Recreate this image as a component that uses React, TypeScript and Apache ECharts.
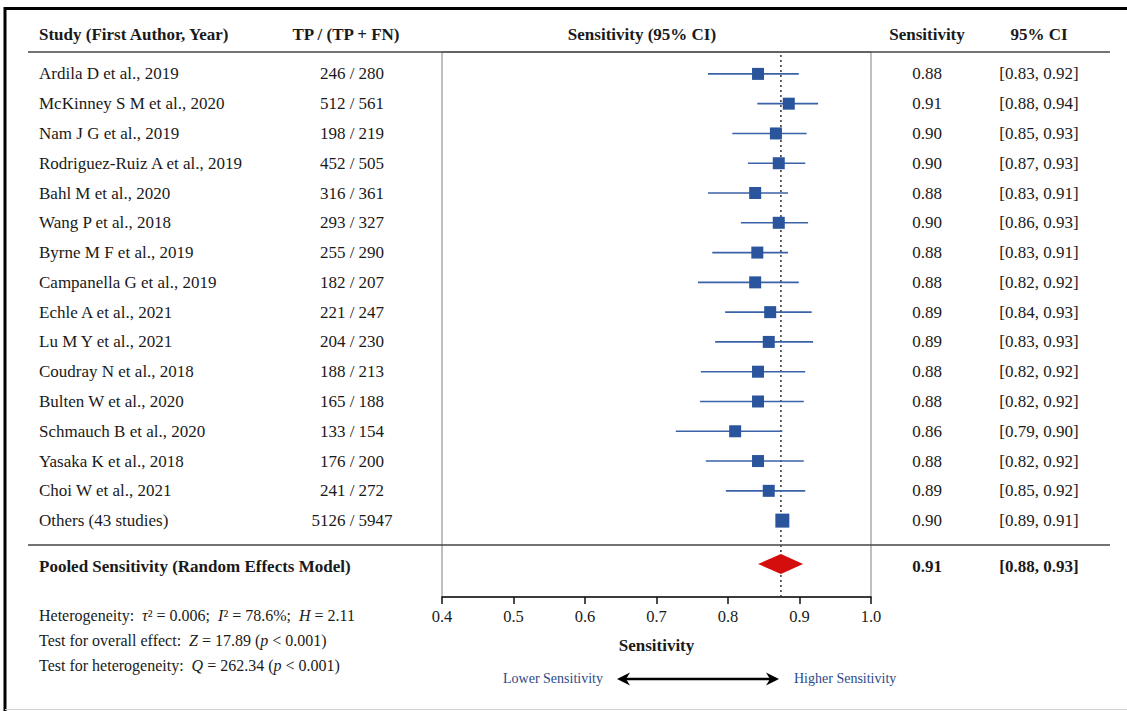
import React, { useEffect, useRef } from 'react';
import * as echarts from 'echarts';

const studies = [
  'Ardila D et al., 2019', 'McKinney S M et al., 2020', 'Nam J G et al., 2019',
  'Rodriguez-Ruiz A et al., 2019', 'Bahl M et al., 2020', 'Wang P et al., 2018',
  'Byrne M F et al., 2019', 'Campanella G et al., 2019', 'Echle A et al., 2021',
  'Lu M Y et al., 2021', 'Coudray N et al., 2018', 'Bulten W et al., 2020',
  'Schmauch B et al., 2020', 'Yasaka K et al., 2018', 'Choi W et al., 2021',
  'Others (43 studies)',
];
const tpCounts = [
  '246 / 280', '512 / 561', '198 / 219', '452 / 505', '316 / 361', '293 / 327',
  '255 / 290', '182 / 207', '221 / 247', '204 / 230', '188 / 213', '165 / 188',
  '133 / 154', '176 / 200', '241 / 272', '5126 / 5947',
];
const sensLabels = [
  '0.88', '0.91', '0.90', '0.90', '0.88', '0.90', '0.88', '0.88',
  '0.89', '0.89', '0.88', '0.88', '0.86', '0.88', '0.89', '0.90',
];
const ciLabels = [
  '[0.83, 0.92]', '[0.88, 0.94]', '[0.85, 0.93]', '[0.87, 0.93]', '[0.83, 0.91]',
  '[0.86, 0.93]', '[0.83, 0.91]', '[0.82, 0.92]', '[0.84, 0.93]', '[0.83, 0.93]',
  '[0.82, 0.92]', '[0.82, 0.92]', '[0.79, 0.90]', '[0.82, 0.92]', '[0.85, 0.92]',
  '[0.89, 0.91]',
];
// positions of the marks as drawn on the axis
const estimates = [0.842, 0.885, 0.867, 0.871, 0.838, 0.871, 0.841, 0.838, 0.859, 0.857, 0.842, 0.842, 0.810, 0.842, 0.857, 0.876];
const lowerCI = [0.772, 0.841, 0.806, 0.828, 0.772, 0.818, 0.778, 0.758, 0.796, 0.782, 0.762, 0.761, 0.727, 0.769, 0.797, 0.868];
const upperCI = [0.899, 0.926, 0.910, 0.908, 0.884, 0.912, 0.884, 0.899, 0.917, 0.919, 0.908, 0.906, 0.876, 0.906, 0.908, 0.884];

const pooledLabel = 'Pooled Sensitivity (Random Effects Model)';
const pooledSensLabel = '0.91';
const pooledCILabel = '[0.88, 0.93]';
const pooledEstimate = 0.874;
const pooledLower = 0.842;
const pooledUpper = 0.905;
const referenceLine = 0.874;

const xTicks = { min: 0.4, max: 1.0, interval: 0.1 };

const FONT = '"Liberation Serif", "Times New Roman", serif';
const TEXT = '#1a1a1a';
const BLUE = '#2a559c';
const CI_BLUE = '#3a62a8';
const RED = '#d40d0d';

const G_LEFT = 442;
const G_WIDTH = 429;

function labelAxis(gridIndex: number, data: string[], position: string, margin: number, align: string, bold = false) {
  return {
    type: 'category',
    gridIndex,
    data,
    inverse: true,
    position,
    axisLine: { show: false },
    axisTick: { show: false },
    splitLine: { show: false },
    axisLabel: {
      margin,
      align,
      interval: 0,
      fontFamily: FONT,
      fontSize: 17,
      color: TEXT,
      fontWeight: bold ? 'bold' : 'normal',
    },
  };
}

function txt(x: number, y: number, text: string, extra: any = {}) {
  return {
    type: 'text',
    x,
    y,
    z: 100,
    style: {
      text,
      fontFamily: FONT,
      fontSize: 17,
      fill: TEXT,
      align: 'left',
      verticalAlign: 'middle',
      ...extra,
    },
  };
}

function ln(x1: number, y1: number, x2: number, y2: number, stroke: string, lineWidth: number) {
  return { type: 'line', z: 100, shape: { x1, y1, x2, y2 }, style: { stroke, lineWidth } };
}

const italic = { fontStyle: 'italic', fontFamily: FONT, fontSize: 16, fill: TEXT };
const plain = { fontFamily: FONT, fontSize: 16, fill: TEXT };

const option: any = {
  animation: false,
  backgroundColor: '#fff',
  textStyle: { fontFamily: FONT },
  grid: [
    { left: G_LEFT, top: 52, width: G_WIDTH, height: 545, show: true, borderColor: '#808080', borderWidth: 1, backgroundColor: 'transparent' },
    { left: G_LEFT, top: 59, width: G_WIDTH, height: 476.5 },
    { left: G_LEFT, top: 540, width: G_WIDTH, height: 52 },
  ],
  xAxis: [
    {
      type: 'value', gridIndex: 0, ...xTicks,
      axisLine: { show: true, lineStyle: { color: '#111', width: 1.5 } },
      axisTick: { show: true, length: 7, lineStyle: { color: '#111', width: 1.5 } },
      splitLine: { show: false },
      axisLabel: {
        formatter: (v: number) => v.toFixed(1),
        margin: 11, fontFamily: FONT, fontSize: 16.5, color: TEXT,
        showMinLabel: true, showMaxLabel: true,
      },
      name: 'Sensitivity', nameLocation: 'middle', nameGap: 40,
      nameTextStyle: { fontFamily: FONT, fontSize: 17, fontWeight: 'bold', color: TEXT },
    },
    { type: 'value', gridIndex: 1, ...xTicks, show: false },
    { type: 'value', gridIndex: 2, ...xTicks, show: false },
  ],
  yAxis: [
    labelAxis(1, studies, 'left', G_LEFT - 39, 'left'),
    labelAxis(1, tpCounts, 'left', G_LEFT - 352, 'center'),
    labelAxis(1, sensLabels, 'right', 56, 'center'),
    labelAxis(1, ciLabels, 'right', 168, 'center'),
    labelAxis(2, [pooledLabel], 'left', G_LEFT - 39, 'left', true),
    labelAxis(2, [pooledSensLabel], 'right', 56, 'center', true),
    labelAxis(2, [pooledCILabel], 'right', 168, 'center', true),
    { type: 'value', gridIndex: 0, min: 0, max: 1, show: false },
  ],
  series: [
    {
      type: 'custom', xAxisIndex: 0, yAxisIndex: 7, z: 1,
      data: [[referenceLine]],
      encode: { x: 0 },
      renderItem: (params: any, api: any) => {
        const top = api.coord([api.value(0), 1]);
        const bot = api.coord([api.value(0), 0]);
        return {
          type: 'line',
          shape: { x1: top[0], y1: top[1] + 3, x2: bot[0], y2: bot[1] },
          style: { stroke: '#333', lineWidth: 1.5, lineDash: [2, 3] },
        };
      },
    },
    {
      type: 'custom', xAxisIndex: 1, yAxisIndex: 0, z: 2,
      data: studies.map((_, i) => [lowerCI[i], upperCI[i], i]),
      encode: { x: [0, 1], y: 2 },
      renderItem: (params: any, api: any) => {
        const a = api.coord([api.value(0), api.value(2)]);
        const b = api.coord([api.value(1), api.value(2)]);
        return {
          type: 'line',
          shape: { x1: a[0], y1: a[1], x2: b[0], y2: b[1] },
          style: { stroke: CI_BLUE, lineWidth: 1.6 },
        };
      },
    },
    {
      type: 'scatter', xAxisIndex: 1, yAxisIndex: 0, z: 3,
      symbol: 'rect',
      symbolSize: (v: any, p: any) => (p.dataIndex === studies.length - 1 ? 14 : 12),
      itemStyle: { color: BLUE, opacity: 1 },
      data: estimates.map((e, i) => [e, i]),
    },
    {
      type: 'custom', xAxisIndex: 2, yAxisIndex: 4, z: 3,
      data: [[pooledLower, pooledEstimate, pooledUpper, 0]],
      encode: { x: [0, 1, 2], y: 3 },
      renderItem: (params: any, api: any) => {
        const l = api.coord([api.value(0), api.value(3)]);
        const c = api.coord([api.value(1), api.value(3)]);
        const r = api.coord([api.value(2), api.value(3)]);
        const cy = c[1] - 2;
        return {
          type: 'polygon',
          shape: { points: [[l[0], cy], [c[0], cy - 10], [r[0], cy], [c[0], cy + 10]] },
          style: { fill: RED },
        };
      },
    },
  ],
  graphic: [
    ln(5, 8.5, 1127, 8.5, '#000', 3),
    ln(5, 7, 5, 711, '#000', 3),
    ln(5, 709.5, 1127, 709.5, '#d0d0d0', 1),
    ln(28, 52, 1110, 52, '#444', 1.5),
    ln(28, 545, 1110, 545, '#444', 1.5),
    txt(39, 34, 'Study (First Author, Year)', { fontWeight: 'bold' }),
    txt(346, 34, 'TP / (TP + FN)', { fontWeight: 'bold', align: 'center' }),
    txt(642, 34, 'Sensitivity (95% CI)', { fontWeight: 'bold', align: 'center' }),
    txt(927, 34, 'Sensitivity', { fontWeight: 'bold', align: 'center' }),
    txt(1039, 34, '95% CI', { fontWeight: 'bold', align: 'center' }),
    {
      type: 'text', x: 39, y: 615.5, z: 100,
      style: {
        text: '{p|Heterogeneity:  }{i|τ}{p|² = 0.006;  }{i|I}{p|² = 78.6%;  }{i|H}{p| = 2.11}',
        rich: { p: plain, i: italic },
        fontFamily: FONT, fontSize: 16, fill: TEXT, align: 'left', verticalAlign: 'middle',
      },
    },
    {
      type: 'text', x: 39, y: 640.5, z: 100,
      style: {
        text: '{p|Test for overall effect:  }{i|Z}{p| = 17.89 (}{i|p}{p| < 0.001)}',
        rich: { p: plain, i: italic },
        fontFamily: FONT, fontSize: 16, fill: TEXT, align: 'left', verticalAlign: 'middle',
      },
    },
    {
      type: 'text', x: 39, y: 665.5, z: 100,
      style: {
        text: '{p|Test for heterogeneity:  }{i|Q}{p| = 262.34 (}{i|p}{p| < 0.001)}',
        rich: { p: plain, i: italic },
        fontFamily: FONT, fontSize: 16, fill: TEXT, align: 'left', verticalAlign: 'middle',
      },
    },
    txt(503, 678, 'Lower Sensitivity', { fontSize: 14, fill: '#2b4a8a' }),
    txt(794, 678, 'Higher Sensitivity', { fontSize: 14, fill: '#2b4a8a' }),
    ln(624, 679, 772, 679, '#000', 2.5),
    { type: 'polygon', z: 100, shape: { points: [[617, 679], [630, 672.5], [626, 679], [630, 685.5]] }, style: { fill: '#000' } },
    { type: 'polygon', z: 100, shape: { points: [[779, 679], [766, 672.5], [770, 679], [766, 685.5]] }, style: { fill: '#000' } },
  ],
};

export default function App() {
  const ref = useRef<HTMLDivElement>(null);
  useEffect(() => {
    const chart = echarts.init(ref.current as HTMLDivElement, undefined, { renderer: 'svg' });
    chart.setOption(option);
    return () => chart.dispose();
  }, []);
  return (
    <div
      ref={ref}
      style={{ position: 'fixed', left: 0, top: 0, width: 1127, height: 711, background: '#fff' }}
    />
  );
}
